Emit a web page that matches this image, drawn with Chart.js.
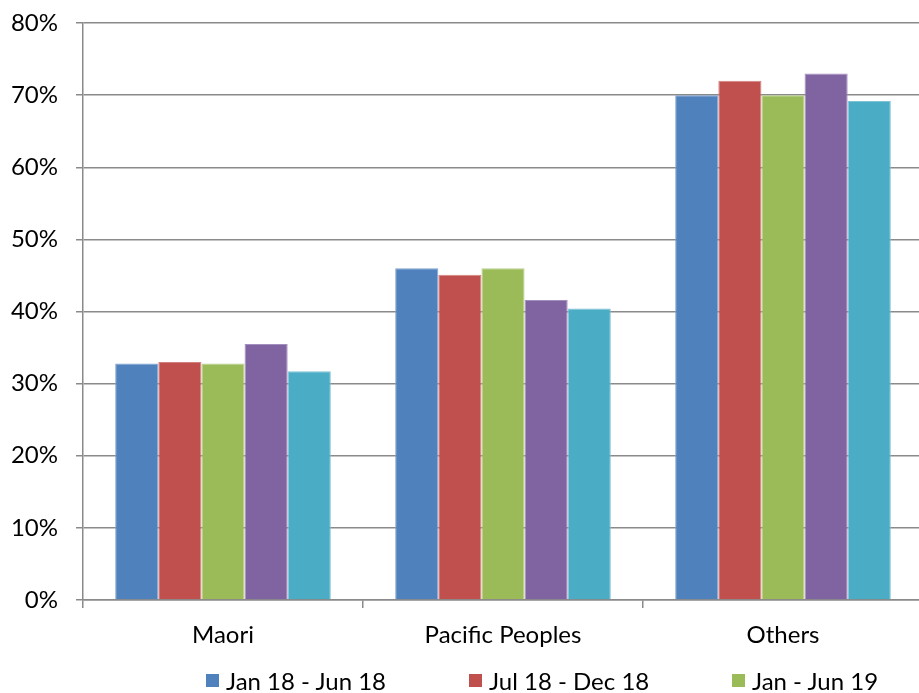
<!DOCTYPE html>
<html>
<head>
<meta charset="utf-8">
<script src="https://cdn.jsdelivr.net/npm/chart.js@4"></script>
<style>
  html, body { margin: 0; padding: 0; background: #fff; }
  body { width: 919px; height: 693px; overflow: hidden; position: relative; }
  #wrap { position: absolute; left: 0; top: 0; width: 940px; height: 693px; }
  #legend { position: absolute; left: 206px; top: 666px; width: 789px; display: flex; flex-wrap: wrap;
            font-family: Lato, "Open Sans", sans-serif; font-size: 24px; color: #000; }
  #legend .item { width: 263px; display: flex; align-items: center; height: 28px; white-space: nowrap; }
  #legend .box { width: 13px; height: 13px; margin-right: 7px; flex: none; }
</style>
</head>
<body>
<div id="wrap"><canvas id="chart" width="940" height="693"></canvas></div>
<div id="legend"></div>
<script>
// Share of each group, per six-month period (percent)
const categories = ["Maori", "Pacific Peoples", "Others"];
const periods = ["Jan 18 - Jun 18", "Jul 18 - Dec 18", "Jan - Jun 19", "Jul - Dec 19", "Jan - Jun 20"];
const janJun18 = [32.8, 46.0, 70.0];
const julDec18 = [33.0, 45.1, 72.0];
const janJun19 = [32.8, 46.0, 70.0];
const julDec19 = [35.5, 41.6, 73.0];
const janJun20 = [31.7, 40.4, 69.2];
const yTicks = [0, 10, 20, 30, 40, 50, 60, 70, 80];

const colors = ["#4F81BD", "#C0504D", "#9BBB59", "#8064A2", "#4BACC6"];
const edges = ["#7FA2CF", "#D4827F", "#B8CF8C", "#A38FBE", "#7EC4D6"];
const series = [janJun18, julDec18, janJun19, julDec19, janJun20];

const gridGray = "#8A8A8A";
const font = { family: "Lato, 'Open Sans', sans-serif", size: 24 };

const chart = new Chart(document.getElementById("chart"), {
  type: "bar",
  data: {
    labels: categories,
    datasets: series.map((vals, i) => ({
      label: periods[i],
      data: vals,
      backgroundColor: colors[i],
      borderColor: edges[i],
      borderWidth: 1,
      barPercentage: 1,
      categoryPercentage: 0.77
    }))
  },
  options: {
    responsive: false,
    devicePixelRatio: 1,
    animation: false,
    layout: { padding: { top: 23, right: 17, left: 0, bottom: 0 } },
    plugins: {
      legend: { display: false },
      tooltip: { enabled: false }
    },
    scales: {
      x: {
        afterFit: (s) => { s.height = 93; s.paddingLeft = 0; s.paddingRight = 0; },
        grid: { display: true, drawOnChartArea: false, drawTicks: true, tickLength: 8, color: gridGray, lineWidth: 1.5, offset: true },
        border: { display: true, color: gridGray, width: 1.5 },
        ticks: { color: "#000", font: font, padding: 13 }
      },
      y: {
        min: 0,
        max: 80,
        afterFit: (s) => { s.width = 83; s.paddingTop = 0; s.paddingBottom = 0; },
        afterBuildTicks: (s) => { s.ticks = yTicks.map(v => ({ value: v })); },
        grid: { color: gridGray, lineWidth: 1.5, tickLength: 7 },
        border: { display: true, color: gridGray, width: 1.5 },
        ticks: { color: "#000", font: font, padding: 18, callback: (v) => v + "%" }
      }
    }
  }
});

// Legend laid out in fixed-width columns, built from the chart's datasets
const legendEl = document.getElementById("legend");
chart.data.datasets.forEach((ds) => {
  const item = document.createElement("div");
  item.className = "item";
  const box = document.createElement("span");
  box.className = "box";
  box.style.background = ds.backgroundColor;
  const txt = document.createElement("span");
  txt.textContent = ds.label;
  item.appendChild(box);
  item.appendChild(txt);
  legendEl.appendChild(item);
});
</script>
</body>
</html>
